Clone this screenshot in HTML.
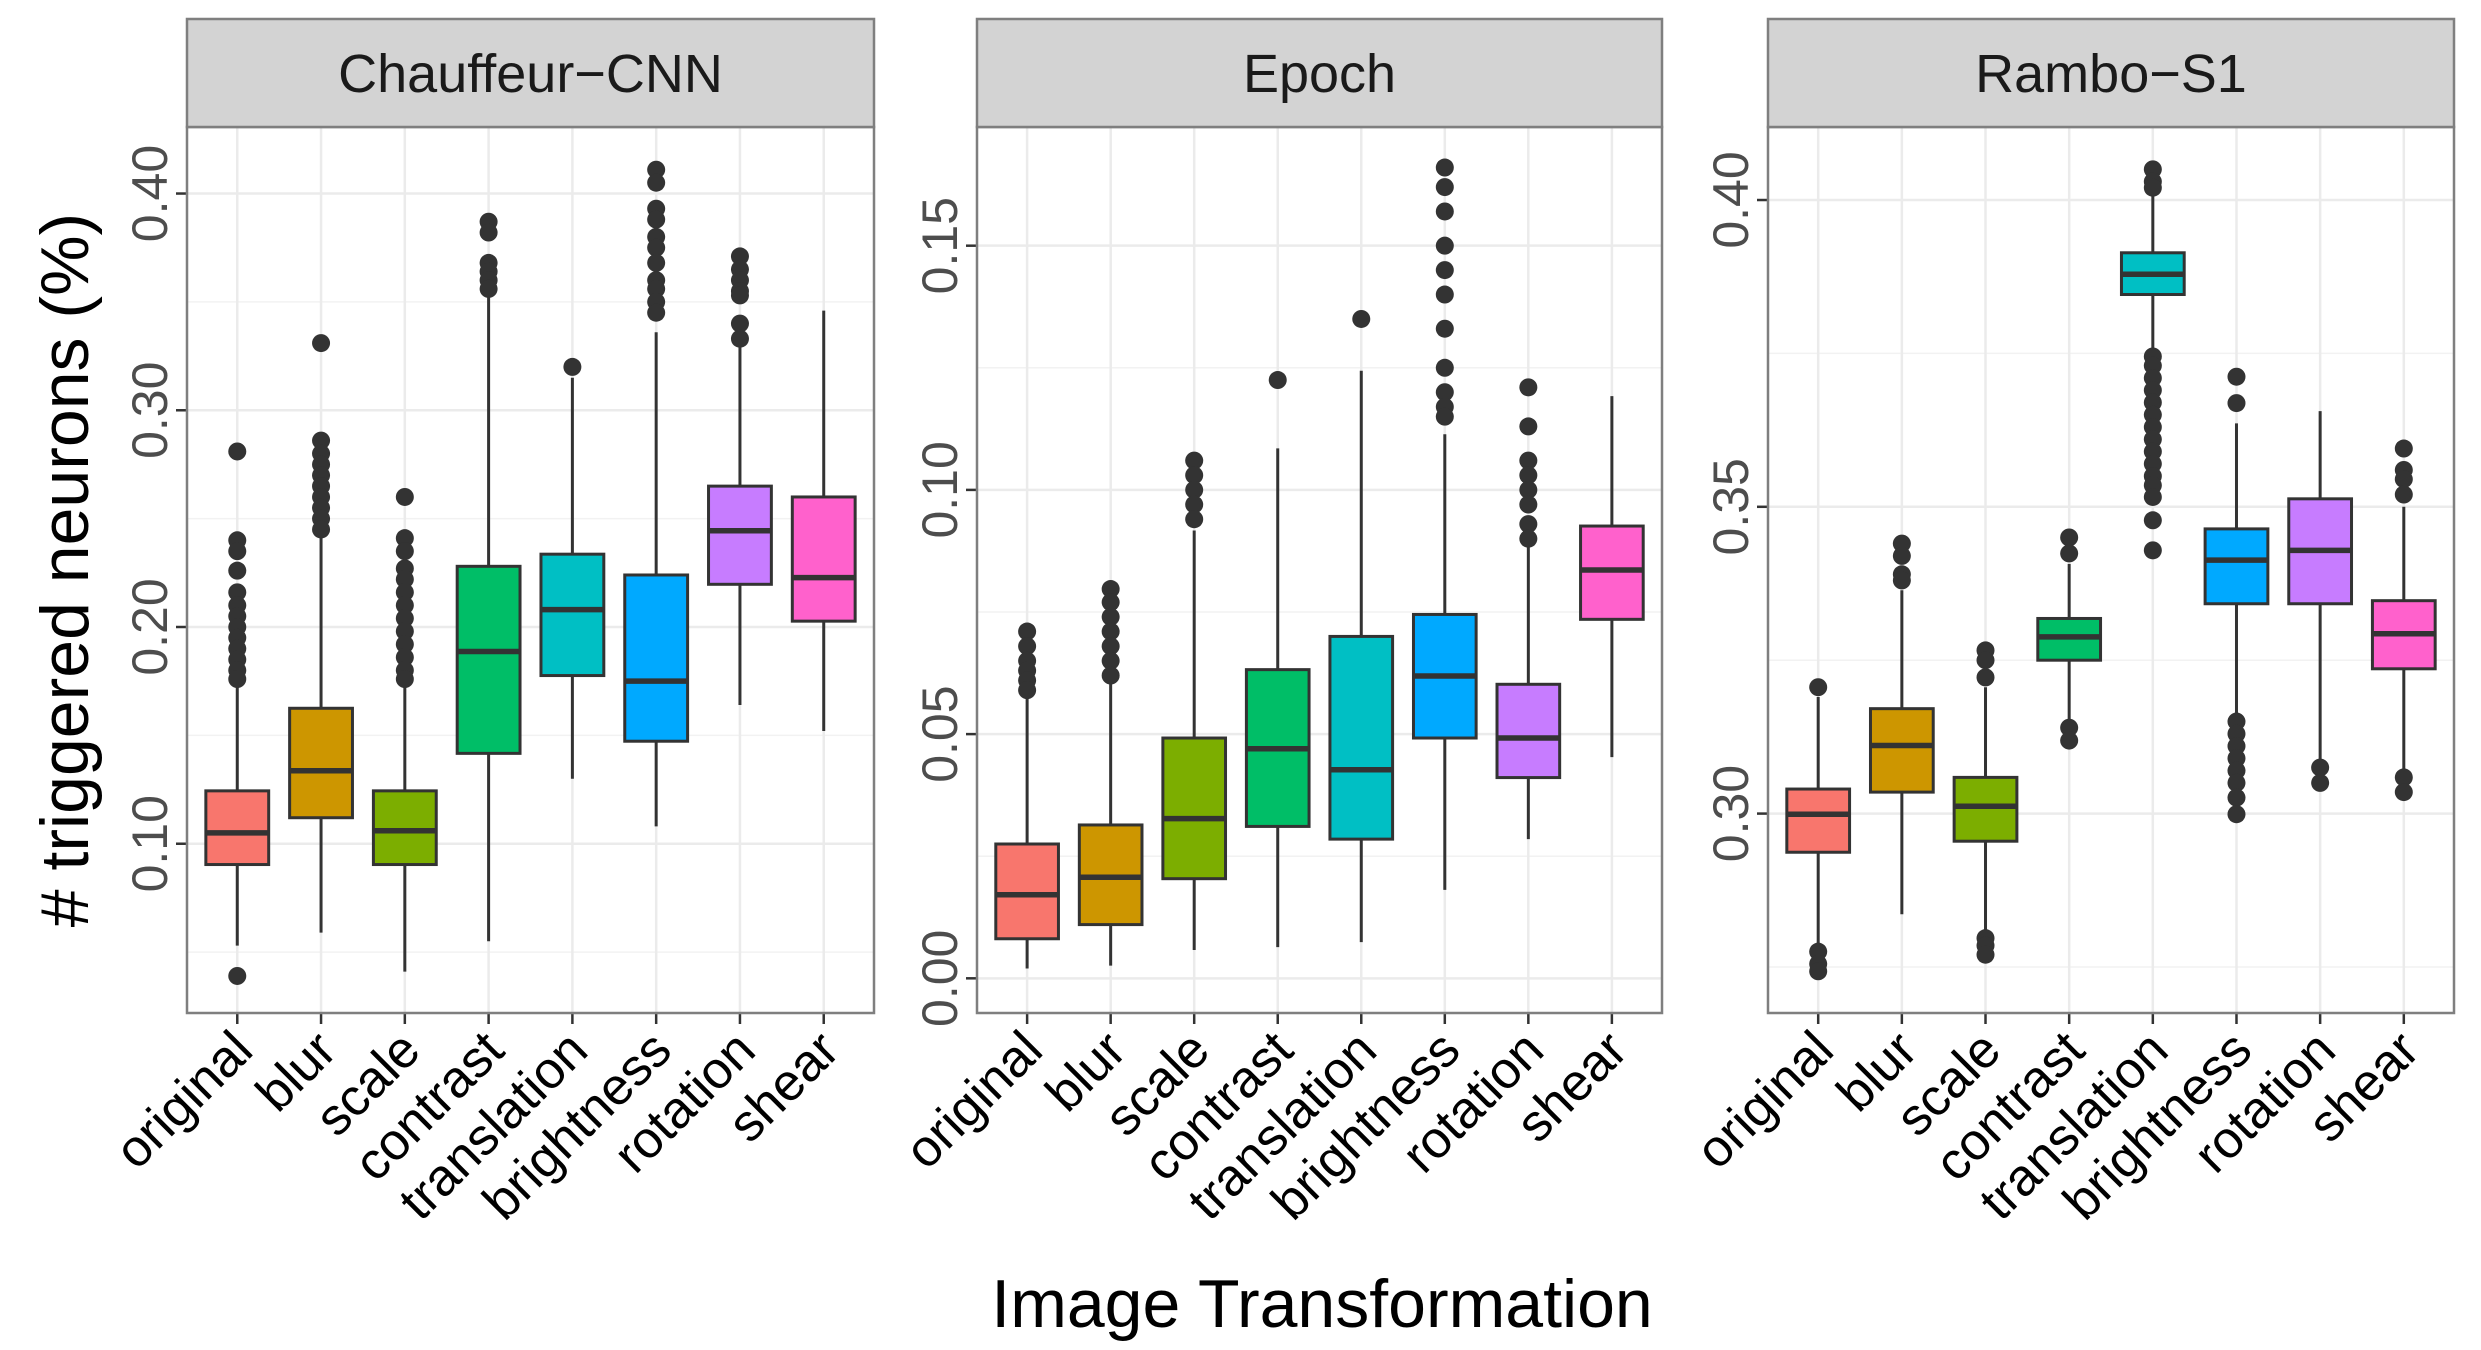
<!DOCTYPE html>
<html><head><meta charset="utf-8"><style>
html,body{margin:0;padding:0;background:#fff;}
svg{display:block;font-family:"Liberation Sans",Arial,sans-serif;}
</style></head><body>
<svg id="chart" width="2481" height="1350" viewBox="0 0 2481 1350" xmlns="http://www.w3.org/2000/svg">
<text x="0" y="0" transform="translate(88,570) rotate(-90)" text-anchor="middle" font-size="68" fill="#000"># triggered neurons (%)</text>
<text x="1322" y="1327" text-anchor="middle" font-size="68" fill="#000">Image Transformation</text>
</svg>
<script>
const categories = ["original","blur","scale","contrast","translation","brightness","rotation","shear"];
const colors = ["#F8766D","#CD9600","#7CAE00","#00BE67","#00BFC4","#00A9FF","#C77CFF","#FF61CC"];

const chauffeurLow = [0.053,0.059,0.041,0.055,0.130,0.108,0.164,0.152];
const chauffeurQ1 = [0.0904,0.112,0.0904,0.1417,0.1776,0.1473,0.2197,0.2027];
const chauffeurMed = [0.105,0.1337,0.106,0.1887,0.208,0.175,0.2444,0.2228];
const chauffeurQ3 = [0.1244,0.1625,0.1244,0.228,0.2336,0.224,0.265,0.260];
const chauffeurHigh = [0.173,0.244,0.175,0.356,0.315,0.336,0.3295,0.346];
const chauffeurOut = [
 [0.039,0.281,0.240,0.235,0.226,0.216,0.21,0.205,0.20,0.195,0.19,0.185,0.18,0.176],
 [0.331,0.286,0.28,0.275,0.27,0.265,0.26,0.255,0.25,0.245],
 [0.26,0.241,0.235,0.227,0.222,0.216,0.21,0.204,0.198,0.192,0.186,0.18,0.176],
 [0.387,0.382,0.368,0.364,0.36,0.356],
 [0.32],
 [0.411,0.405,0.393,0.388,0.38,0.375,0.368,0.36,0.356,0.35,0.345],
 [0.371,0.365,0.36,0.355,0.353,0.340,0.333],
 []
];

const epochLow = [0.002,0.0026,0.0058,0.0064,0.0074,0.0181,0.0285,0.0453];
const epochQ1 = [0.0081,0.011,0.0204,0.0311,0.0285,0.0492,0.0411,0.0735];
const epochMed = [0.0171,0.0207,0.0327,0.047,0.0427,0.0619,0.0492,0.0836];
const epochQ3 = [0.0275,0.0314,0.0492,0.0632,0.070,0.0745,0.0602,0.0926];
const epochHigh = [0.0576,0.061,0.0917,0.1085,0.1244,0.1114,0.0884,0.1192];
const epochOut = [
 [0.071,0.068,0.065,0.063,0.061,0.059],
 [0.0797,0.077,0.074,0.071,0.068,0.065,0.062],
 [0.106,0.103,0.1,0.097,0.094],
 [0.1225],
 [0.135],
 [0.166,0.162,0.157,0.15,0.145,0.14,0.133,0.125,0.12,0.117,0.115],
 [0.121,0.113,0.106,0.103,0.1,0.097,0.093,0.09],
 []
];

const ramboLow = [0.278,0.2836,0.2803,0.3151,0.375,0.3162,0.308,0.307];
const ramboQ1 = [0.2937,0.3035,0.2955,0.325,0.3846,0.3342,0.3342,0.3236];
const ramboMed = [0.2999,0.3111,0.3012,0.3288,0.3879,0.3413,0.3429,0.3293];
const ramboQ3 = [0.304,0.3171,0.3059,0.3318,0.3914,0.3464,0.3513,0.3347];
const ramboHigh = [0.319,0.3364,0.3206,0.3407,0.401,0.3636,0.3656,0.350];
const ramboOut = [
 [0.3206,0.2775,0.2755,0.2743],
 [0.344,0.342,0.339,0.338],
 [0.3266,0.325,0.3222,0.2797,0.2785,0.277],
 [0.345,0.3424,0.314,0.3119],
 [0.405,0.403,0.402,0.3745,0.373,0.371,0.369,0.367,0.365,0.363,0.361,0.359,0.357,0.355,0.3535,0.3516,0.3478,0.3429],
 [0.3712,0.3669,0.315,0.313,0.311,0.309,0.307,0.305,0.3026,0.2999],
 [0.3075,0.305],
 [0.3595,0.356,0.3545,0.352,0.3059,0.3035]
];

const chauffeurTicks = [0.10,0.20,0.30,0.40];
const chauffeurTickLabels = ["0.10","0.20","0.30","0.40"];
const epochTicks = [0.00,0.05,0.10,0.15];
const epochTickLabels = ["0.00","0.05","0.10","0.15"];
const ramboTicks = [0.30,0.35,0.40];
const ramboTickLabels = ["0.30","0.35","0.40"];

const panels = [
 {name:"chauffeur",title:"Chauffeur\u2212CNN",x0:187,x1:874,dmin:0.0219,dmax:0.4307,lo:chauffeurLow,q1:chauffeurQ1,med:chauffeurMed,q3:chauffeurQ3,hi:chauffeurHigh,out:chauffeurOut,ticks:chauffeurTicks,labels:chauffeurTickLabels},
 {name:"epoch",title:"Epoch",x0:977,x1:1662,dmin:-0.0071,dmax:0.1743,lo:epochLow,q1:epochQ1,med:epochMed,q3:epochQ3,hi:epochHigh,out:epochOut,ticks:epochTicks,labels:epochTickLabels},
 {name:"rambo",title:"Rambo\u2212S1",x0:1768,x1:2454,dmin:0.2675,dmax:0.4119,lo:ramboLow,q1:ramboQ1,med:ramboMed,q3:ramboQ3,hi:ramboHigh,out:ramboOut,ticks:ramboTicks,labels:ramboTickLabels}
];

const svg = document.getElementById('chart');
const NS = "http://www.w3.org/2000/svg";
const stripTop = 19, plotTop = 127, plotBot = 1013;
function mk(tag, attrs, parent){
  const e = document.createElementNS(NS, tag);
  for (const k in attrs) e.setAttribute(k, attrs[k]);
  (parent||svg).appendChild(e);
  return e;
}
panels.forEach(p => {
  const g = mk('g', {});
  
  
  const yS = v => plotBot - (v - p.dmin) / (p.dmax - p.dmin) * (plotBot - plotTop);
  const step = (p.x1 - p.x0) / 8.2;
  const xS = i => p.x0 + step * (i + 0.6);
  const bg = mk('rect', {x:p.x0, y:plotTop, width:p.x1-p.x0, height:plotBot-plotTop, fill:'#fff'}, g);
  
  
  for (let k = 0; k < p.ticks.length + 1; k++) {
    const d = p.ticks[1] - p.ticks[0];
    const v = p.ticks[0] - d/2 + k*d;
    if (v < p.dmin || v > p.dmax) continue;
    const l = mk('line', {x1:p.x0, x2:p.x1, y1:yS(v), y2:yS(v), stroke:'#f2f2f2', 'stroke-width':1.5}, g);
    
    
  }
  p.ticks.forEach((v, k) => {
    const l = mk('line', {x1:p.x0, x2:p.x1, y1:yS(v), y2:yS(v), stroke:'#ebebeb', 'stroke-width':2.5}, g);
    
    
    const t = mk('line', {x1:p.x0-11, x2:p.x0, y1:yS(v), y2:yS(v), stroke:'#333', 'stroke-width':2.5}, g);
    
    
    const tx = mk('text', {transform:`translate(${p.x0-20},${yS(v)}) rotate(-90)`, 'text-anchor':'middle', 'font-size':50, fill:'#4d4d4d'}, g);
    tx.textContent = p.labels[k];
    
    
  });
  categories.forEach((c, i) => {
    const l = mk('line', {x1:xS(i), x2:xS(i), y1:plotTop, y2:plotBot, stroke:'#ebebeb', 'stroke-width':2.5}, g);
    
    
  });
  categories.forEach((c, i) => {
    const x = xS(i), bw = step * 0.75;
    const bx = mk('g', {}, g);
    
    
    mk('line', {x1:x, x2:x, y1:yS(p.hi[i]), y2:yS(p.lo[i]), stroke:'#333', 'stroke-width':3}, bx);
    mk('rect', {x:x-bw/2, y:yS(p.q3[i]), width:bw, height:yS(p.q1[i])-yS(p.q3[i]), fill:colors[i], stroke:'#333', 'stroke-width':3}, bx);
    mk('line', {x1:x-bw/2, x2:x+bw/2, y1:yS(p.med[i]), y2:yS(p.med[i]), stroke:'#333', 'stroke-width':5.5}, bx);
    p.out[i].forEach(v => {
      const o = mk('circle', {cx:x, cy:yS(v), r:9, fill:'#333'}, bx);
      
      
    });
    const t = mk('line', {x1:x, x2:x, y1:plotBot, y2:plotBot+11, stroke:'#333', 'stroke-width':2.5}, g);
    
    
    const tx = mk('text', {transform:`translate(${x+18},${plotBot+40}) rotate(-45)`, 'text-anchor':'end', 'font-size':52, fill:'#000'}, g);
    tx.textContent = c;
    
    
  });
  const border = mk('rect', {x:p.x0, y:plotTop, width:p.x1-p.x0, height:plotBot-plotTop, fill:'none', stroke:'#7f7f7f', 'stroke-width':2.5}, g);
  
  
  const strip = mk('rect', {x:p.x0, y:stripTop, width:p.x1-p.x0, height:plotTop-stripTop, fill:'#d3d3d3', stroke:'#7f7f7f', 'stroke-width':2.5}, g);
  
  
  const st = mk('text', {x:(p.x0+p.x1)/2, y:(stripTop+plotTop)/2+19, 'text-anchor':'middle', 'font-size':54, fill:'#1a1a1a'}, g);
  st.textContent = p.title;
  
  
});
</script>
</body></html>
